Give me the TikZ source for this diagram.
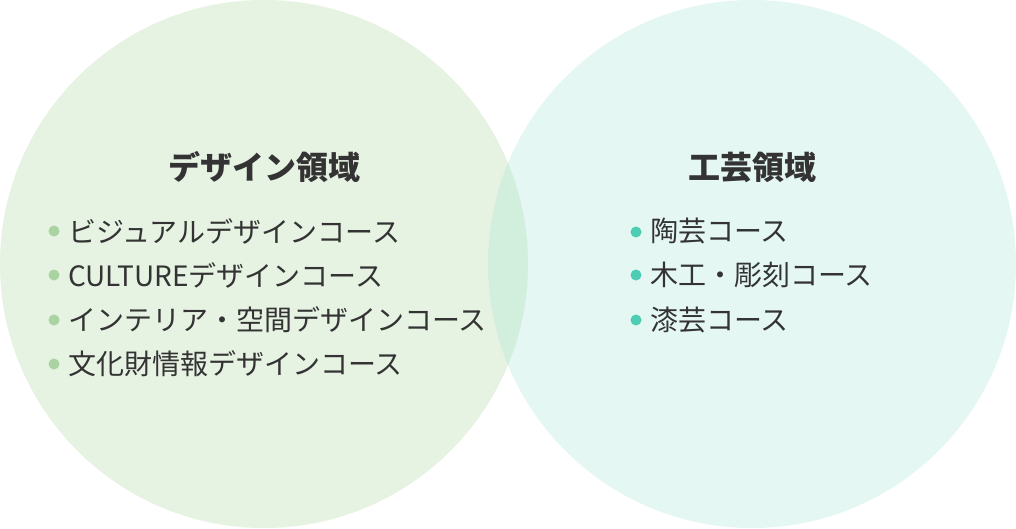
\documentclass[tikz,border=0pt]{standalone}
\usepackage{fontspec}
\setmainfont{Noto Sans CJK JP}
\definecolor{leftfill}{HTML}{E6F2E2}
\definecolor{rightfill}{HTML}{E4F7F3}
\definecolor{overlapfill}{HTML}{D2EEDC}
\definecolor{leftdot}{HTML}{A9D3A0}
\definecolor{rightdot}{HTML}{4ECDB4}
\definecolor{txt}{HTML}{333333}
\begin{document}
\begin{tikzpicture}[x=1pt,y=-1pt,
  titletext/.style={inner sep=0pt,text=txt,font=\fontsize{32}{36}\selectfont\bfseries},
  itemtext/.style={inner sep=0pt,anchor=west,text=txt,font=\fontsize{28}{32}\selectfont},
  ldot/.style={circle,fill=leftdot,inner sep=0pt,minimum size=11pt},
  rdot/.style={circle,fill=rightdot,inner sep=0pt,minimum size=11pt}]
\useasboundingbox (0,0) rectangle (1016,528);
\fill[leftfill] (264,264) circle (264);
\fill[rightfill] (752,264) circle (264);
\begin{scope}
  \clip (264,264) circle (264);
  \fill[overlapfill] (752,264) circle (264);
\end{scope}
% left
\node[titletext] (lt) at (264,167) {デザイン領域};
\node[ldot] (ld1) at (54,231) {};
\node[itemtext] (l1) at (68,231) {ビジュアルデザインコース};
\node[ldot] (ld2) at (54,275) {};
\node[itemtext] (l2) at (68,275) {CULTUREデザインコース};
\node[ldot] (ld3) at (54,320) {};
\node[itemtext] (l3) at (68,320) {インテリア・空間デザインコース};
\node[ldot] (ld4) at (54,364) {};
\node[itemtext] (l4) at (68,364) {文化財情報デザインコース};
% right
\node[titletext] (rt) at (752,167) {工芸領域};
\node[rdot] (rd1) at (636,232) {};
\node[itemtext] (r1) at (650,231) {陶芸コース};
\node[rdot] (rd2) at (636,275) {};
\node[itemtext] (r2) at (650,275) {木工・彫刻コース};
\node[rdot] (rd3) at (636,320) {};
\node[itemtext] (r3) at (650,320) {漆芸コース};
\end{tikzpicture}
\end{document}
